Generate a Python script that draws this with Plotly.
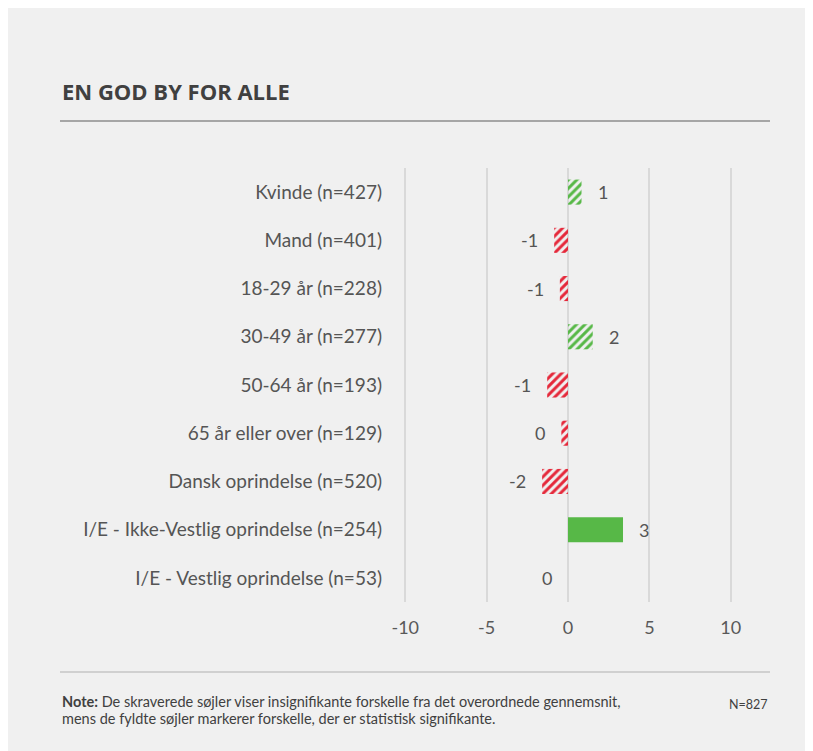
import plotly.graph_objects as go

categories = [
    "Kvinde (n=427)",
    "Mand (n=401)",
    "18-29 år (n=228)",
    "30-49 år (n=277)",
    "50-64 år (n=193)",
    "65 år eller over (n=129)",
    "Dansk oprindelse (n=520)",
    "I/E - Ikke-Vestlig oprindelse (n=254)",
    "I/E - Vestlig oprindelse (n=53)",
]
values = [0.83, -0.85, -0.5, 1.52, -1.28, -0.41, -1.59, 3.38, 0.0]
labels = ["1", "-1", "-1", "2", "-1", "0", "-2", "3", "0"]
significant = [False, False, False, False, False, False, False, True, False]
tick_vals = [-10, -5, 0, 5, 10]
tick_text = ["-10", "-5", "0", "5", "10"]

GREEN = "#57B847"
RED = "#E5283A"
FONT = "Lato"
TXT = "#404040"
LBL = "#555555"

colors = [GREEN if v > 0 else RED for v in values]
shapes_pat = ["" if s else "/" for s in significant]

# figure is placed at (8, 8) by the page's body margin
OFF = 8
W, H = 804, 743
L, R, T, B = 394, 78, 160, 149
pw, ph = W - L - R, H - T - B


def px(x):
    return (x - OFF - L) / pw


def py(y):
    return (H - B - (y - OFF)) / ph


fig = go.Figure()
fig.add_trace(go.Bar(
    y=categories,
    x=values,
    orientation="h",
    width=0.52,
    marker=dict(
        color=colors,
        line=dict(width=0),
        pattern=dict(
            shape=shapes_pat,
            bgcolor="white",
            size=6,
            solidity=0.5,
            fillmode="replace",
        ),
    ),
    hoverinfo="skip",
))

annotations = []
for cat, v, lab in zip(categories, values, labels):
    pos = v > 0
    annotations.append(dict(
        x=v, y=cat, xref="x", yref="y", text=lab, showarrow=False,
        xanchor="left" if pos else "right", xshift=14 if pos else -14,
        font=dict(family=FONT, size=18, color=LBL),
    ))

annotations.append(dict(
    x=px(60), y=py(91), xref="paper", yref="paper", text="<b>EN GOD BY FOR ALLE</b>",
    showarrow=False, xanchor="left", yanchor="middle",
    font=dict(family="Open Sans", size=22, color=TXT),
))
annotations.append(dict(
    x=px(60), y=py(701), xref="paper", yref="paper",
    text="<b>Note:</b> De skraverede søjler viser insignifikante forskelle fra det overordnede gennemsnit,",
    showarrow=False, xanchor="left", yanchor="middle", align="left",
    font=dict(family=FONT, size=14.5, color=TXT),
))
annotations.append(dict(
    x=px(60), y=py(718), xref="paper", yref="paper",
    text="mens de fyldte søjler markerer forskelle, der er statistisk signifikante.",
    showarrow=False, xanchor="left", yanchor="middle", align="left",
    font=dict(family=FONT, size=14.5, color=TXT),
))
annotations.append(dict(
    x=px(770), y=py(704), xref="paper", yref="paper",
    text="N=827", showarrow=False, xanchor="right", yanchor="middle",
    font=dict(family=FONT, size=12.5, color=TXT),
))

shapes = [
    dict(type="line", xref="paper", yref="paper",
         x0=px(60), x1=px(770), y0=py(121), y1=py(121),
         line=dict(color="#A6A6A6", width=2)),
    dict(type="line", xref="paper", yref="paper",
         x0=px(60), x1=px(770), y0=py(672), y1=py(672),
         line=dict(color="#D0D0D0", width=2)),
]

fig.update_layout(
    width=W, height=H,
    margin=dict(l=L, r=R, t=T, b=B, autoexpand=False),
    paper_bgcolor="#F0F0F0",
    plot_bgcolor="rgba(0,0,0,0)",
    showlegend=False,
    annotations=annotations,
    shapes=shapes,
    xaxis=dict(
        range=[-10.2, 10.2], tickvals=tick_vals, ticktext=tick_text,
        showgrid=True, gridcolor="#D9D9D9", gridwidth=2,
        zeroline=True, zerolinecolor="#D9D9D9", zerolinewidth=2,
        showline=False, ticks="", ticklabelstandoff=13,
        tickfont=dict(family=FONT, size=18, color="#595959"),
        fixedrange=True,
    ),
    yaxis=dict(
        autorange="reversed", showgrid=False, zeroline=False, showline=False,
        ticks="", ticklabelstandoff=19,
        tickfont=dict(family=FONT, size=19, color=LBL),
        fixedrange=True,
    ),
)

fig.write_html("out.html")
